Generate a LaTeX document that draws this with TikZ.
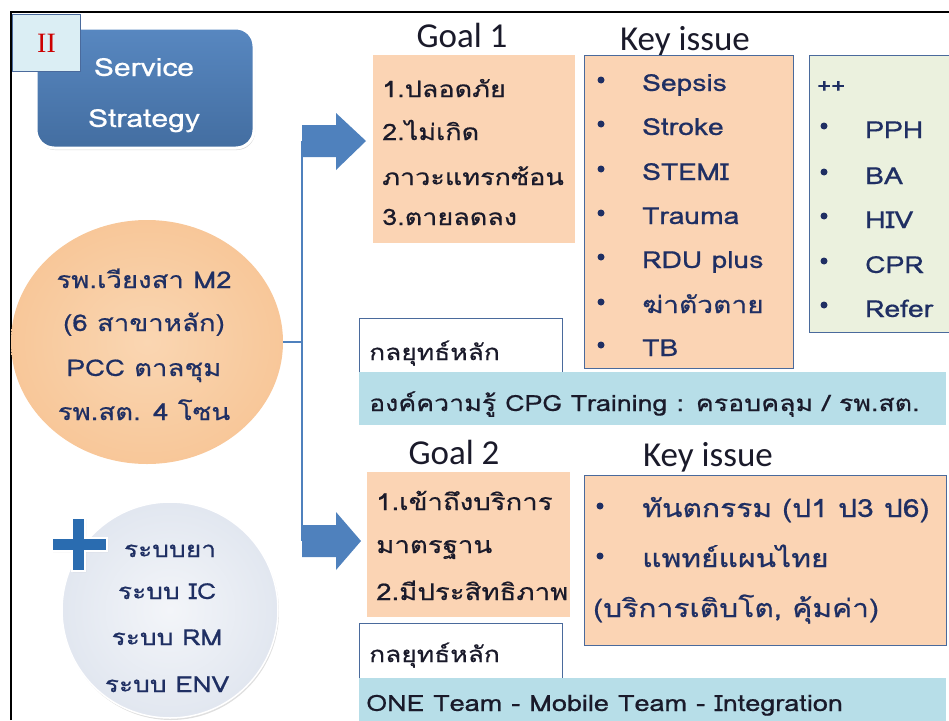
\documentclass[tikz,border=0pt]{standalone}
\usepackage{fontspec}
\setmainfont{Carlito}
\newfontfamily\thaif[Script=Thai, FakeStretch=1.2, FakeBold=0.6]{Loma}
\newfontfamily\romanf{Liberation Serif}
\usetikzlibrary{shapes.geometric,shadows}

\definecolor{peach}{HTML}{FBD4B4}
\definecolor{mint}{HTML}{EBF1DE}
\definecolor{bandblue}{HTML}{B7DEE8}
\definecolor{edgeblue}{HTML}{4A6A9C}
\definecolor{navy}{HTML}{1F2F63}
\definecolor{inkdark}{HTML}{1A1A2A}
\definecolor{arrowblue}{HTML}{4F81BD}
\definecolor{paleblue}{HTML}{DBEEF4}
\definecolor{plusblue}{HTML}{2A6CB0}

% ball shadings for the two round badges
\pgfdeclareradialshading{peachball}{\pgfpoint{0bp}{0bp}}{%
  color(0bp)=(rgb,255:red,250;green,214;blue,178);
  color(30bp)=(rgb,255:red,247;green,196;blue,148);
  color(50bp)=(rgb,255:red,234;green,164;blue,100)}
\pgfdeclareradialshading{greyball}{\pgfpoint{0bp}{0bp}}{%
  color(0bp)=(rgb,255:red,243;green,245;blue,249);
  color(30bp)=(rgb,255:red,222;green,228;blue,238);
  color(50bp)=(rgb,255:red,180;green,191;blue,210)}

\tikzset{
  thaitext/.style={font=\thaif\fontsize{#1}{#1}\selectfont, inner sep=0, anchor=base west},
  thaimid/.style={font=\thaif\fontsize{#1}{#1}\selectfont, inner sep=0, anchor=base},
  heading/.style={font=\fontsize{35}{35}\selectfont, inner sep=0, anchor=base, text=inkdark},
  peachbox/.style={fill=peach, inner sep=0, anchor=north west},
  framedbox/.style={draw=edgeblue, line width=1.2pt, inner sep=0, anchor=north west},
  bandbox/.style={fill=bandblue, inner sep=0, anchor=north west},
  bulletdot/.style={fill=navy, circle, inner sep=0, minimum size=7pt},
  link/.style={draw=arrowblue, line width=1.3pt},
  blockarrow/.style={fill=arrowblue}
}

\begin{document}
\begin{tikzpicture}[x=1pt,y=-1pt]
\useasboundingbox (0,0) rectangle (949,720);

% outer frame
\draw[line width=2pt] (11,720) -- (11,12) -- (949,12);

% title badge
\node[draw=white, line width=3pt, rounded corners=18pt,
      top color=arrowblue!95!white, bottom color=arrowblue!85!black,
      minimum width=218pt, minimum height=120pt, inner sep=0,
      drop shadow={opacity=0.3, shadow xshift=1pt, shadow yshift=-2pt}]
      (strategy) at (145,88) {};
\node[thaimid=25, text=white] (strat1) at (144,76) {Service};
\node[thaimid=25, text=white] (strat2) at (144,127) {Strategy};
\node[fill=paleblue, draw=edgeblue, line width=1pt, minimum width=68pt,
      minimum height=57pt, anchor=north west, inner sep=0] (part) at (12,14) {};
\node[text=red!80!black, font=\romanf\fontsize{28}{28}\selectfont, inner sep=0]
      (partno) at (part.center) {II};

% hospital badge
\node[ellipse, shading=peachball, minimum width=272pt, minimum height=244pt,
      inner sep=0] (hosp) at (147,342) {};
\node[thaimid=23, text=navy] (h1) at (144,288) {รพ.เวียงสา M2};
\node[thaimid=23, text=navy] (h2) at (144,331) {(6 สาขาหลัก)};
\node[thaimid=23, text=navy] (h3) at (144,376) {PCC ตาลชุม};
\node[thaimid=23, text=navy] (h4) at (144,420) {รพ.สต. 4 โซน};

% support systems badge
\node[circle, shading=greyball, draw=white, line width=1.5pt, minimum size=216pt,
      inner sep=0, drop shadow={opacity=0.25, shadow xshift=1pt, shadow yshift=-2pt}]
      (systems) at (170,610) {};
\node[thaimid=22, text=navy] (s1) at (170,557) {ระบบยา};
\node[thaimid=22, text=navy] (s2) at (167,599) {ระบบ IC};
\node[thaimid=22, text=navy] (s3) at (167,645) {ระบบ RM};
\node[thaimid=22, text=navy] (s4) at (167,692) {ระบบ ENV};
\filldraw[fill=plusblue, draw=white, line width=1.5pt,
          drop shadow={opacity=0.3, shadow xshift=1pt, shadow yshift=-1pt}]
  (72,518) -- (85,518) -- (85,538) -- (107,538) -- (107,551) -- (85,551)
  -- (85,571) -- (72,571) -- (72,551) -- (52,551) -- (52,538) -- (72,538) -- cycle;

% connector from the hospital badge to both goals
\coordinate (junc) at (302,342);
\coordinate (upper) at (302,141);
\coordinate (lower) at (302,541);
\draw[link] (hosp.east) -- (junc);
\draw[link] (upper) -- (lower);
\fill[blockarrow] (upper) ++(0,-16) -- ++(34,0) -- ++(0,-12) -- (366,141)
  -- (336,170) -- ++(0,-13) -- (302,157) -- cycle;
\fill[blockarrow] (lower) ++(0,-16) -- ++(34,0) -- ++(0,-13) -- (361,541)
  -- (336,570) -- ++(0,-13) -- (302,557) -- cycle;

% goal 1
\node[heading] (g1title) at (462,47) {Goal 1};
\node[peachbox, minimum width=202pt, minimum height=188pt] (goal1) at (373,55) {};
\node[thaitext=22.5, text=inkdark] (g1a) at (382,97) {1.ปลอดภัย};
\node[thaitext=22.5, text=inkdark] (g1b) at (382,140) {2.ไม่เกิด};
\node[thaitext=22.5, text=inkdark] (g1c) at (382,185) {ภาวะแทรกซ้อน};
\node[thaitext=22.5, text=inkdark] (g1d) at (382,225) {3.ตายลดลง};

% key issues of goal 1
\node[heading] (k1title) at (685,50) {Key issue};
\node[peachbox, framedbox, minimum width=209pt, minimum height=313pt] (key1) at (584,55) {};
\foreach \y/\t [count=\i] in {91/Sepsis, 135/Stroke, 180/STEMI, 224/Trauma,
                             268/RDU plus, 313/ฆ่าตัวตาย, 356/TB} {
  \node[bulletdot] (k1b\i) at (601,\y-11) {};
  \node[thaitext=23.5, text=navy] (k1t\i) at (642,\y) {\t};
}

% additional issues
\node[fill=mint, framedbox, minimum width=160pt, minimum height=277pt] (extra) at (809,55) {};
\node[thaitext=20, text=navy] (plus) at (817,93) {++};
\foreach \y/\t [count=\i] in {138/PPH, 184/BA, 228/HIV, 273/CPR, 317/Refer} {
  \node[bulletdot] (xb\i) at (824,\y-12) {};
  \node[thaitext=23.5, text=navy] (xt\i) at (865,\y) {\t};
}

% main strategy of goal 1
\node[fill=white, framedbox, minimum width=203pt, minimum height=56pt] (strat1box) at (359,318) {};
\node[bandbox, minimum width=587pt, minimum height=53pt] (band1) at (359,372) {};
\node[thaitext=22, text=inkdark] (st1) at (369,360) {กลยุทธ์หลัก};
\node[thaitext=22.3, text=inkdark] (bt1) at (369,411) {องค์ความรู้ CPG Training : ครอบคลุม / รพ.สต.};

% goal 2
\node[heading] (g2title) at (454,464) {Goal 2};
\node[peachbox, minimum width=203pt, minimum height=145pt] (goal2) at (367,472) {};
\node[thaitext=23, text=inkdark] (g2a) at (376,510) {1.เข้าถึงบริการ};
\node[thaitext=23, text=inkdark] (g2b) at (376,553) {มาตรฐาน};
\node[thaitext=23, text=inkdark] (g2c) at (376,600) {2.มีประสิทธิภาพ};

% key issues of goal 2
\node[heading] (k2title) at (708,466) {Key issue};
\node[peachbox, framedbox, minimum width=362pt, minimum height=170pt] (key2) at (584,475) {};
\node[bulletdot] (k2b1) at (600,506) {};
\node[thaitext=25, text=navy] (k2t1) at (642,517) {ทันตกรรม (ป1 ป3 ป6)};
\node[bulletdot] (k2b2) at (600,556) {};
\node[thaitext=25, text=navy] (k2t2) at (642,567) {แพทย์แผนไทย};
\node[thaitext=25, text=navy] (k2t3) at (593,617) {(บริการเติบโต, คุ้มค่า)};

% main strategy of goal 2
\node[fill=white, framedbox, minimum width=203pt, minimum height=56pt] (strat2box) at (359,623) {};
\node[bandbox, minimum width=587pt, minimum height=50pt] (band2) at (359,678) {};
\node[thaitext=22, text=inkdark] (st2) at (369,662) {กลยุทธ์หลัก};
\node[thaitext=22.5, text=inkdark] (bt2) at (366,711) {ONE Team - Mobile Team - Integration};
\end{tikzpicture}
\end{document}
